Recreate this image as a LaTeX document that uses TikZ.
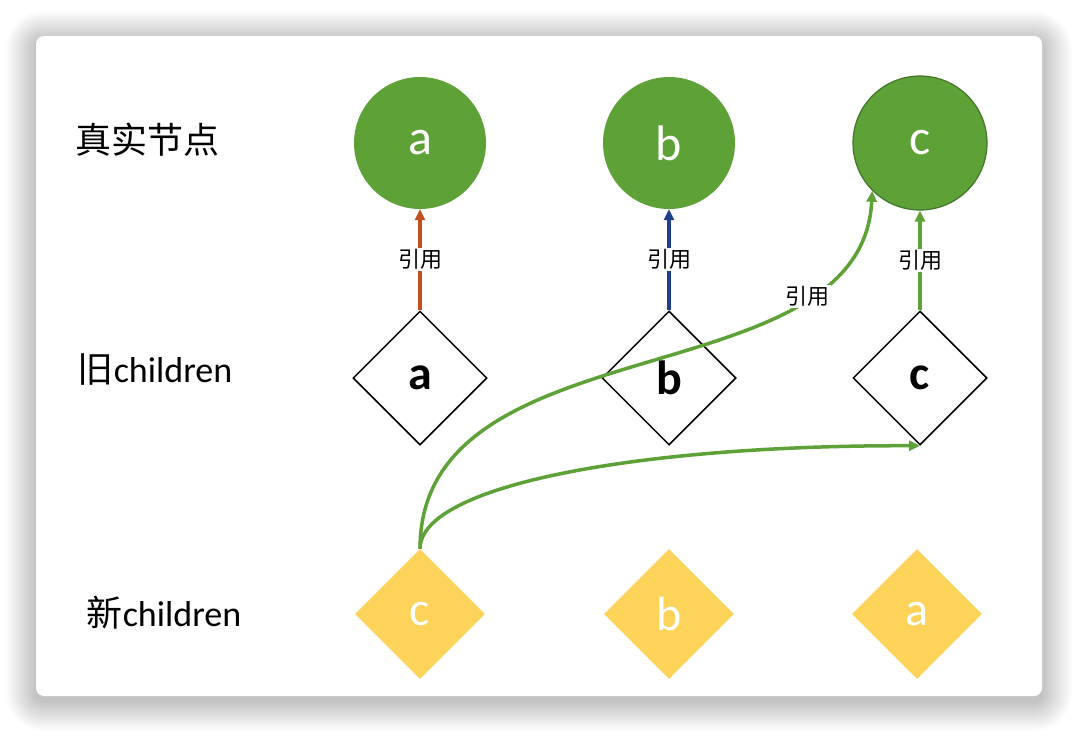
\documentclass[tikz,border=0pt]{standalone}
\usepackage{fontspec}
\setsansfont{Carlito}
\newfontfamily\cjk{Noto Sans CJK SC}
\usetikzlibrary{positioning,shapes.geometric,arrows.meta}
\definecolor{realgreen}{HTML}{5EA137}
\definecolor{darkgreen}{HTML}{43752A}
\definecolor{newyellow}{HTML}{FDD35A}
\definecolor{refred}{HTML}{C2501E}
\definecolor{refblue}{HTML}{213F88}
\tikzset{
   real/.style={circle, fill=realgreen, minimum size=132pt, inner sep=0pt,
      text=white, font=\sffamily\fontsize{50}{52}\selectfont},
   old/.style={diamond, draw=black, line width=1.5pt, fill=white,
      minimum size=134pt, inner sep=0pt,
      font=\sffamily\bfseries\fontsize{48}{50}\selectfont},
   new/.style={diamond, fill=newyellow, minimum size=130pt, inner sep=0pt,
      text=white, font=\sffamily\fontsize{48}{50}\selectfont},
   rowtext/.style={font=\sffamily\fontsize{36}{40}\selectfont},
   reftext/.style={fill=white, text=black, inner sep=1.5pt,
      font=\cjk\fontsize{22}{24}\selectfont},
   refarrow/.style={-{Triangle[length=11pt,width=10pt]}, line width=3.5pt}
}

\begin{document}
\begin{tikzpicture}[x=1pt, y=-1pt, on grid]
   \useasboundingbox (0,0) rectangle (1078,734);

   % card with its shadow
   \foreach \i in {1,...,30}{
      \pgfmathsetmacro\rr{8+\i}
      \fill[black, opacity=0.009, rounded corners=\rr pt]
         (36-\i,41-\i) rectangle (1042+\i,701+\i);
   }
   \fill[white, rounded corners=8pt] (36,36) rectangle (1042,696);

   % real nodes
   \node[real]                                 (r1) at (420,143) {a};
   \node[real, right=249pt of r1]              (r2) {b};
   \node[real, draw=darkgreen, line width=1.2pt,
         minimum size=134pt, right=251pt of r2] (r3) {c};

   % old children
   \node[old, below=235pt of r1] (o1) {a};
   \node[old, below=235pt of r2] (o2) {b};
   \node[old, below=235pt of r3] (o3) {c};

   % new children
   \node[new, below=236pt of o1]                  (n1) {c};
   \node[new, below=236pt of o2]                  (n2) {b};
   \node[new, below=236pt of o3, xshift=-3pt]     (n3) {a};

   % row labels
   \node[rowtext] (lreal) at (147,140) {\cjk 真实节点};
   \node[rowtext] (lold)  at (155,370) {{\cjk 旧}children};
   \node[rowtext] (lnew)  at (164,613) {{\cjk 新}children};

   % references
   \draw[refarrow, refred]    (o1) -- node[reftext] {引用} (r1);
   \draw[refarrow, refblue]   (o2) -- node[reftext] {引用} (r2);
   \draw[refarrow, realgreen] (o3) -- node[reftext] {引用} (r3);

   \draw[refarrow, realgreen] (n1.north) .. controls (420,320) and (862,400)
      .. (r3.south west) node[reftext, pos=0.77] {引用};
   \draw[refarrow, realgreen] (n1.north) .. controls (420,485) and (640,445)
      .. (o3.south);
\end{tikzpicture}
\end{document}
